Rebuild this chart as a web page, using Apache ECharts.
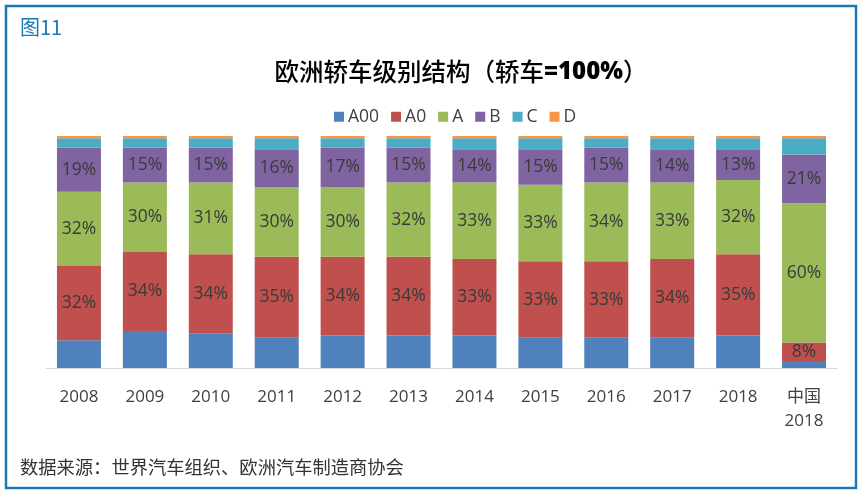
<!DOCTYPE html>
<html><head><meta charset="utf-8">
<script src="https://cdn.jsdelivr.net/npm/echarts@6/dist/echarts.min.js"></script>
<style>html,body{margin:0;padding:0;background:#fff}#c{width:863px;height:494px}</style>
</head><body><div id="c"></div>
<script>
const categories = ['2008','2009','2010','2011','2012','2013','2014','2015','2016','2017','2018','中国\n2018'];
const seriesNames = ['A00','A0','A','B','C','D'];
const A00 = [12,16,15,13,14,14,14,13,13,13,14,3];
const A0  = [32,34,34,35,34,34,33,33,33,34,35,8];
const A   = [32,30,31,30,30,32,33,33,34,33,32,60];
const B   = [19,15,15,16,17,15,14,15,15,14,13,21];
const C   = [4,4,4,5,4,4,5,5,4,5,5,7];
const D   = [1,1,1,1,1,1,1,1,1,1,1,1];
const colors = ['#4F81BD','#C0504D','#9BBB59','#8064A2','#4BACC6','#F79646'];
const values = [A00,A0,A,B,C,D];
const showLabel = [false,true,true,true,false,false];
const font = '"Open Sans", "Noto Sans CJK SC", sans-serif';
const cjk = '"Noto Sans CJK SC", sans-serif';

const chart = echarts.init(document.getElementById('c'));
chart.setOption({
  animation: false,
  color: colors,
  grid: {left: 46, right: 26, top: 136, bottom: 126},
  legend: {
    left: 329, top: 103, itemWidth: 10, itemHeight: 10, itemGap: 12,
    icon: 'rect',
    textStyle: {fontFamily: font, fontSize: 17.5, color: '#404040', padding: [0,0,0,-1]},
    data: seriesNames
  },
  xAxis: {
    type: 'category', data: categories,
    axisLine: {lineStyle: {color: '#d9d9d9', width: 1}},
    axisTick: {length: 6, lineStyle: {color: '#d9d9d9'}},
    axisLabel: {fontFamily: font, fontSize: 17, color: '#404040', margin: 17, lineHeight: 24}
  },
  yAxis: {type: 'value', min: 0, max: 100, show: false, splitLine: {show: false}},
  series: seriesNames.map((n, i) => ({
    name: n, type: 'bar', stack: 'all', barWidth: 44, data: values[i],
    itemStyle: {color: colors[i]},
    label: {show: showLabel[i], position: 'inside', formatter: '{c}%',
      fontFamily: font, fontSize: 17.5, color: '#3a3a3a'}
  })),
  graphic: [
    {type: 'rect', shape: {x: 6, y: 6, width: 850, height: 482},
      style: {fill: 'none', stroke: '#1B78B5', lineWidth: 2.5}},
    {type: 'text', left: 20, top: 17,
      style: {text: '图11', font: '20px ' + cjk, fill: '#1B78B5'}},
    {type: 'text', x: 461, y: 72,
      style: {text: '{a|欧洲轿车级别结构（轿车}{b|=100%}{a|）}', align: 'center', verticalAlign: 'middle',
        rich: {a: {fontFamily: cjk, fontSize: 24.5, color: '#111', fontWeight: 500},
               b: {fontFamily: '"Open Sans", sans-serif', fontSize: 24, color: '#111', fontWeight: 800}}}},
    {type: 'text', left: 20, top: 458,
      style: {text: '数据来源：世界汽车组织、欧洲汽车制造商协会', font: '18.3px ' + cjk, fill: '#333'}}
  ]
});
</script></body></html>
